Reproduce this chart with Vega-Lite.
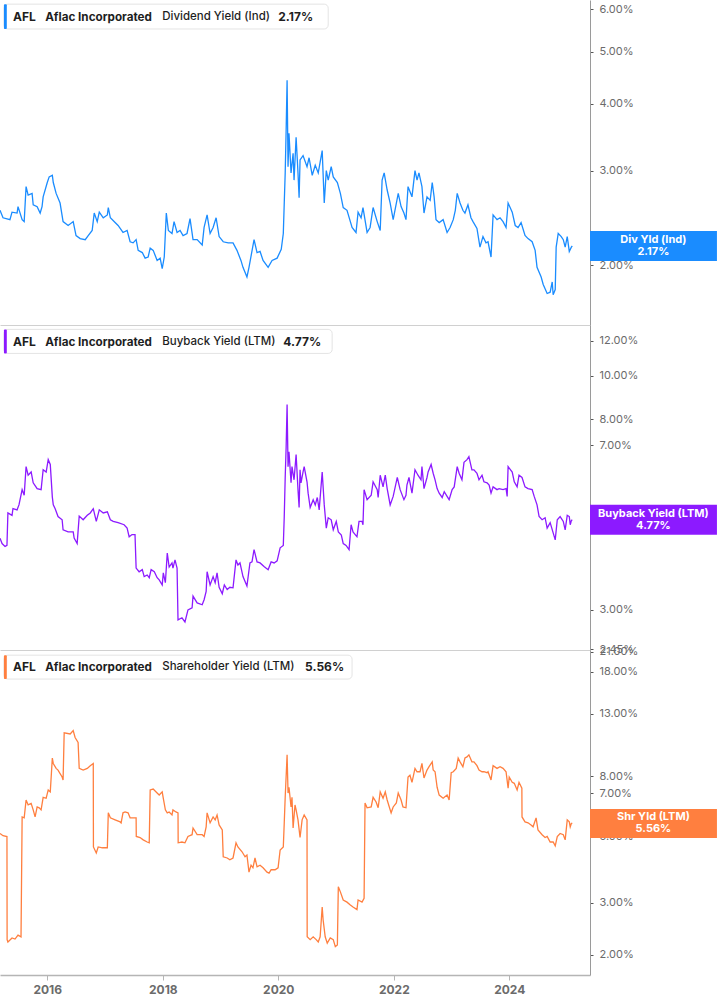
{
  "$schema": "https://vega.github.io/schema/vega-lite/v6.json",
  "padding": 0,
  "background": "white",
  "spacing": 0,
  "bounds": "flush",
  "config": {
    "view": {"stroke": null},
    "font": "Inter",
    "axis": {"grid": false, "labelFont": "Inter"}
  },
  "datasets": {
    "div": [
      {"date":"2015-03-08","value":2.53},{"date":"2015-03-27","value":2.45},{"date":"2015-05-10","value":2.43},{"date":"2015-05-23","value":2.51},{"date":"2015-06-24","value":2.50},{"date":"2015-06-30","value":2.57},{"date":"2015-07-26","value":2.43},{"date":"2015-08-08","value":2.41},{"date":"2015-08-20","value":2.80},{"date":"2015-09-02","value":2.70},{"date":"2015-09-27","value":2.72},{"date":"2015-10-04","value":2.59},{"date":"2015-10-29","value":2.57},{"date":"2015-11-17","value":2.50},{"date":"2015-11-29","value":2.57},{"date":"2015-12-06","value":2.68},
      {"date":"2016-01-01","value":2.85},{"date":"2016-01-13","value":2.92},{"date":"2016-02-02","value":2.94},{"date":"2016-02-08","value":2.85},{"date":"2016-02-26","value":2.72},{"date":"2016-03-22","value":2.61},{"date":"2016-04-10","value":2.41},{"date":"2016-05-12","value":2.37},{"date":"2016-06-13","value":2.41},{"date":"2016-07-01","value":2.27},{"date":"2016-07-27","value":2.24},{"date":"2016-08-28","value":2.23},{"date":"2016-09-16","value":2.27},{"date":"2016-10-11","value":2.32},{"date":"2016-10-24","value":2.50},{"date":"2016-11-12","value":2.41},{"date":"2016-11-25","value":2.51},{"date":"2016-12-20","value":2.45},
      {"date":"2017-01-15","value":2.48},{"date":"2017-01-21","value":2.56},{"date":"2017-02-03","value":2.45},{"date":"2017-03-05","value":2.40},{"date":"2017-03-24","value":2.37},{"date":"2017-04-24","value":2.30},{"date":"2017-05-20","value":2.32},{"date":"2017-06-08","value":2.21},{"date":"2017-06-27","value":2.20},{"date":"2017-07-16","value":2.23},{"date":"2017-07-29","value":2.13},{"date":"2017-08-24","value":2.11},{"date":"2017-09-11","value":2.06},{"date":"2017-09-30","value":2.07},{"date":"2017-10-13","value":2.15},{"date":"2017-11-01","value":2.13},{"date":"2017-11-26","value":2.04},{"date":"2017-12-15","value":2.06},{"date":"2017-12-28","value":1.97},
      {"date":"2018-01-10","value":2.07},{"date":"2018-01-23","value":2.50},{"date":"2018-02-05","value":2.32},{"date":"2018-02-28","value":2.29},{"date":"2018-03-13","value":2.41},{"date":"2018-04-01","value":2.30},{"date":"2018-04-20","value":2.32},{"date":"2018-05-09","value":2.27},{"date":"2018-06-03","value":2.29},{"date":"2018-06-22","value":2.44},{"date":"2018-07-11","value":2.23},{"date":"2018-08-06","value":2.23},{"date":"2018-09-07","value":2.18},{"date":"2018-09-19","value":2.35},{"date":"2018-10-08","value":2.48},{"date":"2018-10-27","value":2.29},{"date":"2018-11-15","value":2.35},{"date":"2018-12-04","value":2.45},{"date":"2018-12-23","value":2.26},
      {"date":"2019-01-18","value":2.21},{"date":"2019-02-18","value":2.20},{"date":"2019-03-21","value":2.20},{"date":"2019-04-15","value":2.13},{"date":"2019-05-10","value":2.04},{"date":"2019-05-23","value":1.98},{"date":"2019-06-17","value":1.90},{"date":"2019-06-30","value":1.98},{"date":"2019-08-01","value":2.23},{"date":"2019-08-20","value":2.11},{"date":"2019-09-08","value":2.12},{"date":"2019-09-27","value":2.04},{"date":"2019-10-29","value":1.98},{"date":"2019-11-23","value":2.04},{"date":"2019-12-25","value":2.06},
      {"date":"2020-01-20","value":2.14},{"date":"2020-02-02","value":2.29},{"date":"2020-02-08","value":2.61},{"date":"2020-02-14","value":2.97},{"date":"2020-02-20","value":3.57},{"date":"2020-02-26","value":4.42},{"date":"2020-03-03","value":3.05},{"date":"2020-03-09","value":3.52},{"date":"2020-03-22","value":2.97},{"date":"2020-04-04","value":3.23},{"date":"2020-04-10","value":2.88},{"date":"2020-04-23","value":3.46},{"date":"2020-05-05","value":2.97},{"date":"2020-05-12","value":2.67},{"date":"2020-05-18","value":3.14},{"date":"2020-06-06","value":3.20},{"date":"2020-07-01","value":3.05},{"date":"2020-07-14","value":3.17},{"date":"2020-08-03","value":2.94},{"date":"2020-08-22","value":3.07},{"date":"2020-09-10","value":2.97},{"date":"2020-10-05","value":3.27},{"date":"2020-10-18","value":2.61},{"date":"2020-10-31","value":3.00},{"date":"2020-11-12","value":2.88},{"date":"2020-12-01","value":3.05},{"date":"2020-12-14","value":2.92},
      {"date":"2021-01-09","value":2.85},{"date":"2021-01-28","value":2.72},{"date":"2021-02-15","value":2.56},{"date":"2021-03-11","value":2.53},{"date":"2021-04-12","value":2.35},{"date":"2021-05-07","value":2.30},{"date":"2021-05-20","value":2.51},{"date":"2021-06-08","value":2.45},{"date":"2021-06-20","value":2.56},{"date":"2021-07-16","value":2.30},{"date":"2021-08-04","value":2.35},{"date":"2021-08-23","value":2.56},{"date":"2021-09-18","value":2.41},{"date":"2021-10-07","value":2.32},{"date":"2021-10-19","value":2.88},{"date":"2021-11-01","value":2.97},{"date":"2021-11-20","value":2.76},{"date":"2021-12-09","value":2.61},{"date":"2021-12-28","value":2.43},
      {"date":"2022-01-29","value":2.72},{"date":"2022-02-16","value":2.57},{"date":"2022-03-06","value":2.50},{"date":"2022-03-19","value":2.43},{"date":"2022-04-01","value":2.80},{"date":"2022-04-26","value":2.68},{"date":"2022-05-15","value":3.00},{"date":"2022-05-28","value":2.88},{"date":"2022-06-09","value":2.97},{"date":"2022-06-28","value":2.80},{"date":"2022-07-11","value":2.50},{"date":"2022-07-30","value":2.68},{"date":"2022-08-19","value":2.64},{"date":"2022-09-01","value":2.85},{"date":"2022-09-13","value":2.68},{"date":"2022-09-25","value":2.43},{"date":"2022-10-15","value":2.40},{"date":"2022-11-09","value":2.43},{"date":"2022-12-04","value":2.30},{"date":"2022-12-23","value":2.35},
      {"date":"2023-01-12","value":2.43},{"date":"2023-01-25","value":2.53},{"date":"2023-02-06","value":2.72},{"date":"2023-02-24","value":2.61},{"date":"2023-03-14","value":2.53},{"date":"2023-03-27","value":2.50},{"date":"2023-04-15","value":2.59},{"date":"2023-05-04","value":2.45},{"date":"2023-05-17","value":2.41},{"date":"2023-06-11","value":2.34},{"date":"2023-06-30","value":2.16},{"date":"2023-07-19","value":2.26},{"date":"2023-08-07","value":2.20},{"date":"2023-08-20","value":2.21},{"date":"2023-09-08","value":2.07},{"date":"2023-09-21","value":2.48},{"date":"2023-10-16","value":2.43},{"date":"2023-11-04","value":2.45},{"date":"2023-11-23","value":2.41},{"date":"2023-12-12","value":2.35},{"date":"2023-12-25","value":2.61},
      {"date":"2024-01-20","value":2.51},{"date":"2024-02-08","value":2.37},{"date":"2024-02-26","value":2.35},{"date":"2024-03-16","value":2.40},{"date":"2024-04-10","value":2.27},{"date":"2024-04-29","value":2.24},{"date":"2024-05-25","value":2.21},{"date":"2024-06-13","value":2.13},{"date":"2024-06-25","value":1.98},{"date":"2024-07-21","value":1.90},{"date":"2024-08-03","value":1.84},{"date":"2024-08-28","value":1.77},{"date":"2024-09-16","value":1.78},{"date":"2024-09-29","value":1.86},{"date":"2024-10-05","value":1.76},{"date":"2024-10-18","value":1.80},{"date":"2024-10-24","value":2.16},{"date":"2024-11-06","value":2.29},{"date":"2024-11-25","value":2.26},{"date":"2024-12-08","value":2.23},{"date":"2024-12-20","value":2.16},
      {"date":"2025-01-02","value":2.26},{"date":"2025-01-15","value":2.12},{"date":"2025-01-28","value":2.16},{"date":"2025-02-03","value":2.17}
    ],
    "buy": [
      {"date":"2015-03-08","value":4.34},{"date":"2015-03-21","value":4.22},{"date":"2015-04-09","value":4.16},{"date":"2015-04-21","value":4.18},{"date":"2015-04-27","value":4.94},{"date":"2015-05-23","value":4.88},{"date":"2015-05-29","value":5.05},{"date":"2015-06-24","value":5.02},{"date":"2015-07-06","value":5.15},{"date":"2015-07-26","value":5.57},{"date":"2015-08-08","value":5.41},{"date":"2015-08-20","value":6.27},{"date":"2015-09-02","value":6.00},{"date":"2015-09-21","value":6.10},{"date":"2015-10-04","value":5.77},{"date":"2015-10-29","value":5.60},{"date":"2015-11-23","value":5.57},{"date":"2015-12-06","value":6.17},{"date":"2015-12-25","value":6.10},
      {"date":"2016-01-07","value":6.50},{"date":"2016-01-20","value":6.34},{"date":"2016-02-02","value":5.36},{"date":"2016-02-08","value":5.15},{"date":"2016-02-20","value":5.05},{"date":"2016-03-09","value":4.85},{"date":"2016-04-04","value":4.77},{"date":"2016-04-10","value":4.53},{"date":"2016-05-12","value":4.48},{"date":"2016-06-13","value":4.48},{"date":"2016-06-19","value":4.34},{"date":"2016-07-08","value":4.22},{"date":"2016-07-21","value":4.86},{"date":"2016-08-15","value":4.77},{"date":"2016-09-10","value":4.88},{"date":"2016-09-29","value":4.94},{"date":"2016-10-18","value":5.05},{"date":"2016-11-06","value":4.73},{"date":"2016-11-25","value":5.02},{"date":"2016-12-20","value":4.94},
      {"date":"2017-01-15","value":4.97},{"date":"2017-02-03","value":4.77},{"date":"2017-02-21","value":4.73},{"date":"2017-03-24","value":4.70},{"date":"2017-05-01","value":4.65},{"date":"2017-05-20","value":4.57},{"date":"2017-06-02","value":4.37},{"date":"2017-06-20","value":4.42},{"date":"2017-07-09","value":4.42},{"date":"2017-07-16","value":3.72},{"date":"2017-08-04","value":3.65},{"date":"2017-08-24","value":3.69},{"date":"2017-09-05","value":3.56},{"date":"2017-09-24","value":3.59},{"date":"2017-10-07","value":3.54},{"date":"2017-10-19","value":3.69},{"date":"2017-11-08","value":3.65},{"date":"2017-11-26","value":3.54},{"date":"2017-12-09","value":3.50},{"date":"2017-12-28","value":3.41},
      {"date":"2018-01-04","value":3.63},{"date":"2018-01-17","value":3.45},{"date":"2018-01-29","value":4.02},{"date":"2018-02-10","value":3.74},{"date":"2018-02-28","value":3.82},{"date":"2018-03-06","value":3.72},{"date":"2018-03-19","value":3.88},{"date":"2018-04-01","value":3.72},{"date":"2018-04-07","value":2.85},{"date":"2018-05-02","value":2.88},{"date":"2018-05-21","value":2.82},{"date":"2018-06-09","value":3.00},{"date":"2018-07-05","value":3.03},{"date":"2018-07-11","value":3.22},{"date":"2018-08-06","value":3.11},{"date":"2018-09-07","value":3.08},{"date":"2018-09-19","value":3.16},{"date":"2018-10-02","value":3.30},{"date":"2018-10-08","value":3.65},{"date":"2018-10-27","value":3.41},{"date":"2018-11-15","value":3.56},{"date":"2018-11-28","value":3.45},{"date":"2018-12-10","value":3.63},{"date":"2018-12-23","value":3.37},
      {"date":"2019-01-12","value":3.26},{"date":"2019-01-25","value":3.41},{"date":"2019-02-12","value":3.33},{"date":"2019-03-01","value":3.37},{"date":"2019-03-21","value":3.36},{"date":"2019-04-09","value":3.88},{"date":"2019-04-21","value":3.78},{"date":"2019-05-04","value":3.82},{"date":"2019-05-23","value":3.56},{"date":"2019-06-17","value":3.39},{"date":"2019-07-06","value":3.82},{"date":"2019-07-19","value":3.84},{"date":"2019-08-01","value":4.09},{"date":"2019-08-20","value":3.84},{"date":"2019-09-08","value":3.82},{"date":"2019-10-03","value":3.75},{"date":"2019-10-29","value":3.69},{"date":"2019-11-17","value":3.84},{"date":"2019-12-06","value":3.82},{"date":"2019-12-25","value":3.86},
      {"date":"2020-01-13","value":4.13},{"date":"2020-02-02","value":4.18},{"date":"2020-02-08","value":4.85},{"date":"2020-02-14","value":5.93},{"date":"2020-02-20","value":6.94},{"date":"2020-02-26","value":8.63},{"date":"2020-03-03","value":6.27},{"date":"2020-03-09","value":6.77},{"date":"2020-03-22","value":5.77},{"date":"2020-03-28","value":6.27},{"date":"2020-04-10","value":5.86},{"date":"2020-04-23","value":6.67},{"date":"2020-05-05","value":5.57},{"date":"2020-05-12","value":5.08},{"date":"2020-05-18","value":6.17},{"date":"2020-05-24","value":5.77},{"date":"2020-06-06","value":6.10},{"date":"2020-06-13","value":6.27},{"date":"2020-07-01","value":5.80},{"date":"2020-07-08","value":5.47},{"date":"2020-07-21","value":5.08},{"date":"2020-08-09","value":5.29},{"date":"2020-08-22","value":5.15},{"date":"2020-09-04","value":5.35},{"date":"2020-09-16","value":5.02},{"date":"2020-10-05","value":6.10},{"date":"2020-10-18","value":5.15},{"date":"2020-10-31","value":4.57},{"date":"2020-11-12","value":4.82},{"date":"2020-12-01","value":4.77},{"date":"2020-12-14","value":4.53},
      {"date":"2021-01-02","value":4.73},{"date":"2021-01-15","value":4.48},{"date":"2021-02-03","value":4.41},{"date":"2021-02-15","value":4.22},{"date":"2021-03-05","value":4.18},{"date":"2021-03-24","value":4.09},{"date":"2021-04-06","value":4.65},{"date":"2021-04-18","value":4.48},{"date":"2021-05-13","value":4.37},{"date":"2021-05-26","value":4.73},{"date":"2021-06-14","value":4.73},{"date":"2021-06-20","value":4.65},{"date":"2021-06-27","value":5.57},{"date":"2021-07-16","value":5.29},{"date":"2021-08-11","value":5.41},{"date":"2021-08-23","value":5.80},{"date":"2021-09-18","value":5.57},{"date":"2021-09-24","value":5.35},{"date":"2021-10-07","value":6.00},{"date":"2021-10-25","value":5.65},{"date":"2021-11-08","value":6.00},{"date":"2021-11-20","value":5.60},{"date":"2021-12-09","value":5.15},{"date":"2021-12-28","value":5.38},
      {"date":"2022-01-23","value":5.93},{"date":"2022-02-10","value":5.57},{"date":"2022-03-06","value":5.29},{"date":"2022-03-19","value":5.41},{"date":"2022-03-25","value":5.70},{"date":"2022-04-07","value":5.93},{"date":"2022-04-26","value":5.47},{"date":"2022-05-15","value":6.17},{"date":"2022-06-03","value":6.00},{"date":"2022-06-22","value":5.86},{"date":"2022-06-28","value":6.27},{"date":"2022-07-11","value":5.60},{"date":"2022-07-30","value":5.93},{"date":"2022-08-06","value":6.10},{"date":"2022-08-25","value":6.34},{"date":"2022-09-07","value":6.06},{"date":"2022-09-19","value":5.86},{"date":"2022-10-02","value":5.60},{"date":"2022-10-15","value":5.47},{"date":"2022-11-03","value":5.35},{"date":"2022-11-16","value":5.51},{"date":"2022-12-04","value":5.38},{"date":"2022-12-17","value":5.29},
      {"date":"2023-01-05","value":5.57},{"date":"2023-01-18","value":5.65},{"date":"2023-02-06","value":6.27},{"date":"2023-02-18","value":6.06},{"date":"2023-03-08","value":5.86},{"date":"2023-03-21","value":6.41},{"date":"2023-04-09","value":6.50},{"date":"2023-04-21","value":6.60},{"date":"2023-05-10","value":6.17},{"date":"2023-05-23","value":6.17},{"date":"2023-06-11","value":6.06},{"date":"2023-06-24","value":5.86},{"date":"2023-07-13","value":6.00},{"date":"2023-07-25","value":5.80},{"date":"2023-08-14","value":5.77},{"date":"2023-08-27","value":5.70},{"date":"2023-09-08","value":5.47},{"date":"2023-09-21","value":5.65},{"date":"2023-10-16","value":5.57},{"date":"2023-10-29","value":5.60},{"date":"2023-11-23","value":5.57},{"date":"2023-12-12","value":5.60},{"date":"2023-12-19","value":5.38},{"date":"2023-12-25","value":6.27},
      {"date":"2024-01-20","value":6.10},{"date":"2024-02-02","value":5.80},{"date":"2024-02-20","value":5.65},{"date":"2024-03-03","value":6.00},{"date":"2024-03-22","value":5.93},{"date":"2024-04-10","value":5.65},{"date":"2024-04-29","value":5.60},{"date":"2024-05-25","value":5.57},{"date":"2024-06-07","value":5.38},{"date":"2024-06-25","value":5.15},{"date":"2024-07-08","value":4.85},{"date":"2024-07-27","value":4.77},{"date":"2024-08-15","value":4.82},{"date":"2024-08-28","value":4.57},{"date":"2024-09-16","value":4.70},{"date":"2024-10-05","value":4.46},{"date":"2024-10-18","value":4.30},{"date":"2024-10-31","value":4.77},{"date":"2024-11-18","value":4.85},{"date":"2024-12-08","value":4.73},{"date":"2024-12-20","value":4.53},
      {"date":"2025-01-02","value":4.88},{"date":"2025-01-15","value":4.85},{"date":"2025-01-21","value":4.65},{"date":"2025-01-28","value":4.75},{"date":"2025-02-03","value":4.77}
    ],
    "shr": [
      {"date":"2015-03-08","value":5.13},{"date":"2015-03-27","value":5.04},{"date":"2015-04-21","value":5.01},{"date":"2015-04-22","value":2.25},{"date":"2015-04-27","value":2.21},{"date":"2015-05-23","value":2.28},{"date":"2015-06-11","value":2.26},{"date":"2015-06-30","value":2.33},{"date":"2015-07-19","value":2.30},{"date":"2015-07-26","value":5.83},{"date":"2015-08-08","value":5.79},{"date":"2015-08-20","value":6.65},{"date":"2015-09-02","value":6.40},{"date":"2015-09-21","value":6.48},{"date":"2015-10-04","value":6.16},{"date":"2015-10-16","value":5.83},{"date":"2015-10-29","value":6.30},{"date":"2015-11-11","value":6.26},{"date":"2015-11-23","value":6.16},{"date":"2015-12-06","value":6.79},{"date":"2015-12-25","value":6.74},
      {"date":"2016-01-07","value":7.19},{"date":"2016-01-20","value":7.08},{"date":"2016-02-02","value":9.21},{"date":"2016-02-08","value":8.83},{"date":"2016-02-26","value":8.50},{"date":"2016-03-09","value":8.39},{"date":"2016-04-04","value":7.95},{"date":"2016-04-10","value":7.77},{"date":"2016-04-17","value":11.2},{"date":"2016-05-25","value":11.1},{"date":"2016-06-13","value":11.4},{"date":"2016-06-25","value":10.8},{"date":"2016-07-14","value":10.4},{"date":"2016-07-21","value":8.50},{"date":"2016-08-15","value":8.39},{"date":"2016-09-10","value":8.50},{"date":"2016-09-29","value":8.68},{"date":"2016-10-18","value":8.83},{"date":"2016-10-19","value":4.62},{"date":"2016-11-06","value":4.41},{"date":"2016-11-18","value":4.62},{"date":"2016-12-14","value":4.59},
      {"date":"2017-01-15","value":4.59},{"date":"2017-01-21","value":6.02},{"date":"2017-02-03","value":5.79},{"date":"2017-03-05","value":5.70},{"date":"2017-04-06","value":5.61},{"date":"2017-04-12","value":5.57},{"date":"2017-04-24","value":6.02},{"date":"2017-05-07","value":6.06},{"date":"2017-05-26","value":6.02},{"date":"2017-06-08","value":5.79},{"date":"2017-06-27","value":5.79},{"date":"2017-07-16","value":5.79},{"date":"2017-07-17","value":5.01},{"date":"2017-08-10","value":4.97},{"date":"2017-08-30","value":4.88},{"date":"2017-09-24","value":4.80},{"date":"2017-10-07","value":4.77},{"date":"2017-10-13","value":7.19},{"date":"2017-11-01","value":7.24},{"date":"2017-11-26","value":7.02},{"date":"2017-12-09","value":6.91},{"date":"2017-12-28","value":7.08},
      {"date":"2018-01-04","value":6.74},{"date":"2018-01-17","value":6.16},{"date":"2018-01-29","value":6.02},{"date":"2018-02-10","value":6.06},{"date":"2018-02-28","value":5.92},{"date":"2018-03-06","value":6.16},{"date":"2018-03-25","value":6.06},{"date":"2018-04-07","value":6.02},{"date":"2018-04-08","value":4.77},{"date":"2018-05-02","value":4.80},{"date":"2018-05-21","value":4.77},{"date":"2018-06-09","value":5.01},{"date":"2018-07-05","value":5.08},{"date":"2018-07-11","value":5.35},{"date":"2018-08-06","value":5.08},{"date":"2018-09-07","value":5.08},{"date":"2018-09-19","value":5.01},{"date":"2018-10-02","value":5.40},{"date":"2018-10-08","value":6.02},{"date":"2018-10-27","value":5.57},{"date":"2018-11-15","value":5.83},{"date":"2018-11-28","value":5.70},{"date":"2018-12-10","value":5.92},{"date":"2018-12-23","value":5.48},
      {"date":"2019-01-12","value":5.27},{"date":"2019-01-18","value":4.28},{"date":"2019-02-12","value":4.24},{"date":"2019-03-01","value":4.18},{"date":"2019-03-21","value":4.24},{"date":"2019-04-09","value":4.77},{"date":"2019-04-21","value":4.62},{"date":"2019-05-17","value":4.45},{"date":"2019-06-05","value":4.28},{"date":"2019-06-17","value":4.34},{"date":"2019-06-30","value":3.80},{"date":"2019-07-13","value":4.01},{"date":"2019-07-25","value":3.93},{"date":"2019-08-07","value":4.24},{"date":"2019-08-20","value":3.96},{"date":"2019-09-08","value":4.01},{"date":"2019-09-27","value":3.93},{"date":"2019-10-22","value":3.80},{"date":"2019-11-04","value":3.77},{"date":"2019-11-17","value":3.87},{"date":"2019-12-12","value":3.87},{"date":"2019-12-31","value":3.93},
      {"date":"2020-01-13","value":4.51},{"date":"2020-02-02","value":4.62},{"date":"2020-02-08","value":5.57},{"date":"2020-02-14","value":6.79},{"date":"2020-02-26","value":9.44},{"date":"2020-03-03","value":7.02},{"date":"2020-03-09","value":7.34},{"date":"2020-03-22","value":6.30},{"date":"2020-03-28","value":6.79},{"date":"2020-04-04","value":5.35},{"date":"2020-04-16","value":6.40},{"date":"2020-04-23","value":6.16},{"date":"2020-05-05","value":5.70},{"date":"2020-05-18","value":4.97},{"date":"2020-05-31","value":5.70},{"date":"2020-06-13","value":5.92},{"date":"2020-07-01","value":5.70},{"date":"2020-07-02","value":2.30},{"date":"2020-07-21","value":2.25},{"date":"2020-08-09","value":2.30},{"date":"2020-08-28","value":2.25},{"date":"2020-09-10","value":2.21},{"date":"2020-09-22","value":2.30},{"date":"2020-10-05","value":2.90},{"date":"2020-10-11","value":2.62},{"date":"2020-10-24","value":2.30},{"date":"2020-11-06","value":2.19},{"date":"2020-11-25","value":2.28},{"date":"2020-12-14","value":2.25},{"date":"2020-12-27","value":2.13},
      {"date":"2021-01-09","value":2.16},{"date":"2021-01-15","value":3.39},{"date":"2021-01-28","value":3.26},{"date":"2021-02-15","value":3.06},{"date":"2021-03-11","value":3.01},{"date":"2021-03-30","value":2.95},{"date":"2021-04-18","value":2.90},{"date":"2021-05-13","value":2.84},{"date":"2021-05-20","value":3.06},{"date":"2021-06-14","value":3.01},{"date":"2021-06-27","value":3.10},{"date":"2021-07-03","value":6.50},{"date":"2021-07-16","value":6.26},{"date":"2021-08-11","value":6.30},{"date":"2021-08-23","value":6.79},{"date":"2021-09-11","value":6.55},{"date":"2021-09-24","value":6.26},{"date":"2021-10-07","value":7.08},{"date":"2021-10-25","value":6.74},{"date":"2021-11-08","value":7.08},{"date":"2021-11-20","value":6.65},{"date":"2021-12-15","value":6.02},{"date":"2021-12-28","value":6.30},
      {"date":"2022-01-17","value":6.50},{"date":"2022-01-29","value":7.02},{"date":"2022-02-16","value":6.65},{"date":"2022-02-28","value":6.30},{"date":"2022-03-19","value":6.26},{"date":"2022-04-01","value":7.95},{"date":"2022-04-13","value":8.06},{"date":"2022-04-26","value":7.63},{"date":"2022-05-15","value":8.50},{"date":"2022-05-28","value":8.28},{"date":"2022-06-16","value":8.28},{"date":"2022-06-28","value":8.83},{"date":"2022-07-11","value":7.89},{"date":"2022-07-30","value":8.39},{"date":"2022-08-12","value":8.61},{"date":"2022-09-01","value":8.94},{"date":"2022-09-07","value":8.39},{"date":"2022-09-19","value":8.28},{"date":"2022-10-02","value":7.34},{"date":"2022-10-15","value":6.91},{"date":"2022-11-09","value":6.74},{"date":"2022-12-04","value":6.91},{"date":"2022-12-17","value":6.65},{"date":"2022-12-30","value":8.22},
      {"date":"2023-01-12","value":8.28},{"date":"2023-01-31","value":8.50},{"date":"2023-02-12","value":9.21},{"date":"2023-02-24","value":8.94},{"date":"2023-03-14","value":8.61},{"date":"2023-03-27","value":9.21},{"date":"2023-04-09","value":9.29},{"date":"2023-04-21","value":9.44},{"date":"2023-05-10","value":8.94},{"date":"2023-05-23","value":8.94},{"date":"2023-06-11","value":8.68},{"date":"2023-06-24","value":8.39},{"date":"2023-07-13","value":8.28},{"date":"2023-07-25","value":8.28},{"date":"2023-08-14","value":8.22},{"date":"2023-08-20","value":8.28},{"date":"2023-09-08","value":7.77},{"date":"2023-09-21","value":8.68},{"date":"2023-10-16","value":8.50},{"date":"2023-11-04","value":8.61},{"date":"2023-11-23","value":8.50},{"date":"2023-12-12","value":8.28},{"date":"2023-12-25","value":7.29},
      {"date":"2024-01-01","value":7.95},{"date":"2024-01-20","value":7.63},{"date":"2024-02-02","value":7.57},{"date":"2024-02-20","value":7.19},{"date":"2024-03-03","value":7.63},{"date":"2024-03-21","value":7.29},{"date":"2024-03-22","value":5.83},{"date":"2024-04-10","value":5.61},{"date":"2024-04-29","value":5.57},{"date":"2024-05-18","value":5.48},{"date":"2024-05-31","value":5.40},{"date":"2024-06-19","value":5.79},{"date":"2024-07-01","value":5.27},{"date":"2024-07-27","value":5.08},{"date":"2024-08-15","value":4.97},{"date":"2024-08-28","value":5.01},{"date":"2024-09-16","value":4.80},{"date":"2024-10-05","value":4.80},{"date":"2024-10-18","value":4.66},{"date":"2024-10-31","value":5.01},{"date":"2024-11-18","value":5.13},{"date":"2024-12-08","value":5.08},{"date":"2024-12-20","value":4.88},
      {"date":"2025-01-02","value":5.70},{"date":"2025-01-15","value":5.61},{"date":"2025-01-21","value":5.40},{"date":"2025-01-28","value":5.54},{"date":"2025-02-03","value":5.56}
    ]
  },
  "vconcat": [
    {
      "width": 590, "height": 325,
      "encoding": {
        "x": {"type": "temporal", "scale": {"domain": [{"year":2015,"month":3,"date":8},{"year":2025,"month":5,"date":26}]},
              "axis": {"title": null, "labels": false, "ticks": false, "domainColor": "#d0d0d0", "domainWidth": 1}},
        "y": {"type": "quantitative", "scale": {"type": "log", "domain": [1.546, 6.24], "nice": false},
              "axis": {"orient": "right", "title": null, "values": [2,3,4,5,6], "labelExpr": "format(datum.value, '.2f') + '%'", "labelOverlap": false, "labelFlush": false, "labelBound": false, "domainColor": "#9a9a9a", "tickColor": "#555", "tickSize": 3, "labelColor": "#6b6b6b", "labelFontSize": 11, "labelPadding": 6}}
      },
      "layer": [
        {"data": {"name": "div"}, "mark": {"type": "line", "color": "#1a8cff", "strokeWidth": 1.3, "clip": true},
         "encoding": {"x": {"field": "date", "type": "temporal"}, "y": {"field": "value", "type": "quantitative"}}},
        {"data": {"values": [{}]}, "mark": {"type": "rect", "fill": "white", "stroke": "#e4e4e4", "strokeWidth": 1, "cornerRadius": 4},
         "encoding": {"x": {"datum": {"year":2015,"month":4,"date":2}, "type": "temporal"}, "x2": {"datum": {"year":2020,"month":11,"date":12}},
                      "y": {"datum": 6.13, "type": "quantitative"}, "y2": {"datum": 5.51}}},
        {"data": {"values": [{}]}, "mark": {"type": "rect", "fill": "#1a8cff", "cornerRadius": 1},
         "encoding": {"x": {"datum": {"year":2015,"month":4,"date":2}, "type": "temporal"}, "x2": {"datum": {"year":2015,"month":4,"date":20}},
                      "y": {"datum": 6.13, "type": "quantitative"}, "y2": {"datum": 5.51}}},
        {"data": {"values": [{}]}, "mark": {"type": "text", "text": "AFL", "align": "left", "baseline": "middle", "fontSize": 12, "fontWeight": "bold", "color": "#1e1e1e"},
         "encoding": {"x": {"datum": {"year":2015,"month":5,"date":29}, "type": "temporal"}, "y": {"datum": 5.8, "type": "quantitative"}}},
        {"data": {"values": [{}]}, "mark": {"type": "text", "text": "Aflac Incorporated", "align": "left", "baseline": "middle", "fontSize": 11.7, "fontWeight": "bold", "color": "#1e1e1e"},
         "encoding": {"x": {"datum": {"year":2015,"month":12,"date":19}, "type": "temporal"}, "y": {"datum": 5.8, "type": "quantitative"}}},
        {"data": {"values": [{}]}, "mark": {"type": "text", "text": "Dividend Yield (Ind)", "align": "left", "baseline": "middle", "fontSize": 11.5, "fontWeight": 500, "color": "#1e1e1e"},
         "encoding": {"x": {"datum": {"year":2017,"month":12,"date":28}, "type": "temporal"}, "y": {"datum": 5.8, "type": "quantitative"}}},
        {"data": {"values": [{}]}, "mark": {"type": "text", "text": "2.17%", "align": "left", "baseline": "middle", "fontSize": 12, "fontWeight": "bold", "color": "#1e1e1e"},
         "encoding": {"x": {"datum": {"year":2020,"month":1,"date":1}, "type": "temporal"}, "y": {"datum": 5.8, "type": "quantitative"}}},
        {"data": {"values": [{}]}, "mark": {"type": "rect", "fill": "#1a8cff", "clip": false},
         "encoding": {"x": {"datum": {"year":2025,"month":5,"date":26}, "type": "temporal"}, "x2": {"datum": {"year":2027,"month":8,"date":7}},
                      "y": {"datum": 2.314, "type": "quantitative"}, "y2": {"datum": 2.035}}},
        {"data": {"values": [{}]}, "mark": {"type": "text", "text": ["Div Yld (Ind)", "2.17%"], "align": "center", "baseline": "middle", "dy": -6, "fontSize": 11, "fontWeight": "bold", "lineHeight": 12, "color": "white", "clip": false},
         "encoding": {"x": {"datum": {"year":2026,"month":7,"date":1}, "type": "temporal"}, "y": {"datum": 2.17, "type": "quantitative"}}}
      ]
    },
    {
      "width": 590, "height": 325,
      "encoding": {
        "x": {"type": "temporal", "scale": {"domain": [{"year":2015,"month":3,"date":8},{"year":2025,"month":5,"date":26}]},
              "axis": {"title": null, "labels": false, "ticks": false, "domainColor": "#d0d0d0", "domainWidth": 1}},
        "y": {"type": "quantitative", "scale": {"type": "log", "domain": [2.44, 13.0], "nice": false},
              "axis": {"orient": "right", "title": null, "values": [2.45,3,5,7,8,10,12], "labelExpr": "format(datum.value, '.2f') + '%'", "labelOverlap": false, "labelFlush": false, "labelBound": false, "domainColor": "#9a9a9a", "tickColor": "#555", "tickSize": 3, "labelColor": "#6b6b6b", "labelFontSize": 11, "labelPadding": 6}}
      },
      "layer": [
        {"data": {"name": "buy"}, "mark": {"type": "line", "color": "#8c1aff", "strokeWidth": 1.3, "clip": true},
         "encoding": {"x": {"field": "date", "type": "temporal"}, "y": {"field": "value", "type": "quantitative"}}},
        {"data": {"values": [{}]}, "mark": {"type": "rect", "fill": "white", "stroke": "#e4e4e4", "strokeWidth": 1, "cornerRadius": 4},
         "encoding": {"x": {"datum": {"year":2015,"month":4,"date":2}, "type": "temporal"}, "x2": {"datum": {"year":2020,"month":12,"date":7}},
                      "y": {"datum": 12.71, "type": "quantitative"}, "y2": {"datum": 11.23}}},
        {"data": {"values": [{}]}, "mark": {"type": "rect", "fill": "#8c1aff", "cornerRadius": 1},
         "encoding": {"x": {"datum": {"year":2015,"month":4,"date":2}, "type": "temporal"}, "x2": {"datum": {"year":2015,"month":4,"date":20}},
                      "y": {"datum": 12.71, "type": "quantitative"}, "y2": {"datum": 11.23}}},
        {"data": {"values": [{}]}, "mark": {"type": "text", "text": "AFL", "align": "left", "baseline": "middle", "fontSize": 12, "fontWeight": "bold", "color": "#1e1e1e"},
         "encoding": {"x": {"datum": {"year":2015,"month":5,"date":29}, "type": "temporal"}, "y": {"datum": 11.94, "type": "quantitative"}}},
        {"data": {"values": [{}]}, "mark": {"type": "text", "text": "Aflac Incorporated", "align": "left", "baseline": "middle", "fontSize": 11.7, "fontWeight": "bold", "color": "#1e1e1e"},
         "encoding": {"x": {"datum": {"year":2015,"month":12,"date":19}, "type": "temporal"}, "y": {"datum": 11.94, "type": "quantitative"}}},
        {"data": {"values": [{}]}, "mark": {"type": "text", "text": "Buyback Yield (LTM)", "align": "left", "baseline": "middle", "fontSize": 11.5, "fontWeight": 500, "color": "#1e1e1e"},
         "encoding": {"x": {"datum": {"year":2017,"month":12,"date":28}, "type": "temporal"}, "y": {"datum": 11.94, "type": "quantitative"}}},
        {"data": {"values": [{}]}, "mark": {"type": "text", "text": "4.77%", "align": "left", "baseline": "middle", "fontSize": 12, "fontWeight": "bold", "color": "#1e1e1e"},
         "encoding": {"x": {"datum": {"year":2020,"month":2,"date":2}, "type": "temporal"}, "y": {"datum": 11.94, "type": "quantitative"}}},
        {"data": {"values": [{}]}, "mark": {"type": "rect", "fill": "#8c1aff", "clip": false},
         "encoding": {"x": {"datum": {"year":2025,"month":5,"date":26}, "type": "temporal"}, "x2": {"datum": {"year":2027,"month":8,"date":7}},
                      "y": {"datum": 5.155, "type": "quantitative"}, "y2": {"datum": 4.416}}},
        {"data": {"values": [{}]}, "mark": {"type": "text", "text": ["Buyback Yield (LTM)", "4.77%"], "align": "center", "baseline": "middle", "dy": -6, "fontSize": 11, "fontWeight": "bold", "lineHeight": 12, "color": "white", "clip": false},
         "encoding": {"x": {"datum": {"year":2026,"month":7,"date":1}, "type": "temporal"}, "y": {"datum": 4.77, "type": "quantitative"}}}
      ]
    },
    {
      "width": 590, "height": 325,
      "encoding": {
        "x": {"type": "temporal", "scale": {"domain": [{"year":2015,"month":3,"date":8},{"year":2025,"month":5,"date":26}]},
              "axis": {"title": null, "values": [{"year":2016,"month":1,"date":1},{"year":2018,"month":1,"date":1},{"year":2020,"month":1,"date":1},{"year":2022,"month":1,"date":1},{"year":2024,"month":1,"date":1}], "format": "%Y", "labelFontWeight": "bold", "labelColor": "#6b6b6b", "labelFontSize": 12, "tickColor": "#b5b5b5", "tickSize": 5, "domainColor": "#b5b5b5", "domainWidth": 1.5, "labelPadding": 4, "labelFlush": false}},
        "y": {"type": "quantitative", "scale": {"type": "log", "domain": [1.71, 21.3], "nice": false},
              "axis": {"orient": "right", "title": null, "values": [2,3,5,7,8,13,18,21], "labelExpr": "format(datum.value, '.2f') + '%'", "labelOverlap": false, "labelFlush": false, "labelBound": false, "domainColor": "#9a9a9a", "tickColor": "#555", "tickSize": 3, "labelColor": "#6b6b6b", "labelFontSize": 11, "labelPadding": 6}}
      },
      "layer": [
        {"data": {"name": "shr"}, "mark": {"type": "line", "color": "#ff7f3f", "strokeWidth": 1.3, "clip": true},
         "encoding": {"x": {"field": "date", "type": "temporal"}, "y": {"field": "value", "type": "quantitative"}}},
        {"data": {"values": [{}]}, "mark": {"type": "rect", "fill": "white", "stroke": "#e4e4e4", "strokeWidth": 1, "cornerRadius": 4},
         "encoding": {"x": {"datum": {"year":2015,"month":4,"date":2}, "type": "temporal"}, "x2": {"datum": {"year":2021,"month":4,"date":12}},
                      "y": {"datum": 20.46, "type": "quantitative"}, "y2": {"datum": 17.0}}},
        {"data": {"values": [{}]}, "mark": {"type": "rect", "fill": "#ff7f3f", "cornerRadius": 1},
         "encoding": {"x": {"datum": {"year":2015,"month":4,"date":2}, "type": "temporal"}, "x2": {"datum": {"year":2015,"month":4,"date":20}},
                      "y": {"datum": 20.46, "type": "quantitative"}, "y2": {"datum": 17.0}}},
        {"data": {"values": [{}]}, "mark": {"type": "text", "text": "AFL", "align": "left", "baseline": "middle", "fontSize": 12, "fontWeight": "bold", "color": "#1e1e1e"},
         "encoding": {"x": {"datum": {"year":2015,"month":5,"date":29}, "type": "temporal"}, "y": {"datum": 18.66, "type": "quantitative"}}},
        {"data": {"values": [{}]}, "mark": {"type": "text", "text": "Aflac Incorporated", "align": "left", "baseline": "middle", "fontSize": 11.7, "fontWeight": "bold", "color": "#1e1e1e"},
         "encoding": {"x": {"datum": {"year":2015,"month":12,"date":19}, "type": "temporal"}, "y": {"datum": 18.66, "type": "quantitative"}}},
        {"data": {"values": [{}]}, "mark": {"type": "text", "text": "Shareholder Yield (LTM)", "align": "left", "baseline": "middle", "fontSize": 11.5, "fontWeight": 500, "color": "#1e1e1e"},
         "encoding": {"x": {"datum": {"year":2017,"month":12,"date":28}, "type": "temporal"}, "y": {"datum": 18.66, "type": "quantitative"}}},
        {"data": {"values": [{}]}, "mark": {"type": "text", "text": "5.56%", "align": "left", "baseline": "middle", "fontSize": 12, "fontWeight": "bold", "color": "#1e1e1e"},
         "encoding": {"x": {"datum": {"year":2020,"month":6,"date":19}, "type": "temporal"}, "y": {"datum": 18.66, "type": "quantitative"}}},
        {"data": {"values": [{}]}, "mark": {"type": "rect", "fill": "#ff7f3f", "clip": false},
         "encoding": {"x": {"datum": {"year":2025,"month":5,"date":26}, "type": "temporal"}, "x2": {"datum": {"year":2027,"month":8,"date":7}},
                      "y": {"datum": 6.20, "type": "quantitative"}, "y2": {"datum": 4.95}}},
        {"data": {"values": [{}]}, "mark": {"type": "text", "text": ["Shr Yld (LTM)", "5.56%"], "align": "center", "baseline": "middle", "dy": -6, "fontSize": 11, "fontWeight": "bold", "lineHeight": 12, "color": "white", "clip": false},
         "encoding": {"x": {"datum": {"year":2026,"month":7,"date":1}, "type": "temporal"}, "y": {"datum": 5.56, "type": "quantitative"}}}
      ]
    }
  ]
}
